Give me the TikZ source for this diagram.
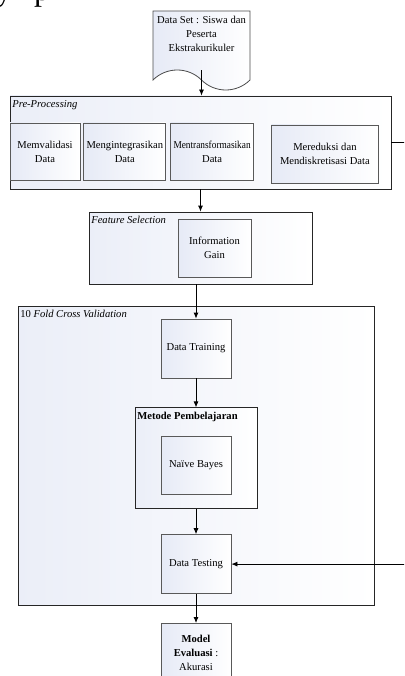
\documentclass[tikz,border=0pt]{standalone}
\usepackage{fontspec}
\setmainfont{Liberation Serif}
\usetikzlibrary{positioning,shapes.symbols,arrows.meta}
\definecolor{boxtint}{RGB}{230,234,246}

\tikzset{
  block/.style={draw=black!65, line width=0.8pt, left color=boxtint, right color=white,
    align=center, inner sep=1pt, font=\fontsize{10.6}{14}\selectfont},
  group/.style={draw=black!85, line width=0.8pt, left color=boxtint!80, right color=white, inner sep=0pt},
  grouplabel/.style={anchor=north west, inner xsep=2.5pt, inner ysep=4.5pt, font=\fontsize{10.6}{13}\selectfont},
  flow/.style={-{Latex[length=6pt,width=5pt]}, line width=0.8pt},
}

\begin{document}
\begin{tikzpicture}[x=1pt,y=-1pt]
\clip (0,0) rectangle (404,676);
% cut-off line of the page above
\node[anchor=base west, inner sep=0pt, font=\fontsize{32}{32}\selectfont] (pagetext) at (-4,1) {y\hspace{22pt}p};

% groups
\node[group, minimum width=381pt, minimum height=93pt] (preproc) at (200.5,142.5) {};
\node[grouplabel, font=\fontsize{10.6}{13}\selectfont\itshape] (preproclabel) at (preproc.north west) {Pre-Processing};
\node[group, minimum width=223pt, minimum height=72pt] (fs) at (200.5,248) {};
\node[grouplabel, font=\fontsize{10.6}{13}\selectfont\itshape] (fslabel) at (fs.north west) {Feature Selection};
\node[group, minimum width=356pt, minimum height=299pt] (cv) at (196,455.5) {};
\node[grouplabel] (cvlabel) at (cv.north west) {10 \textit{Fold Cross Validation}};

% data source
\node[tape, tape bend top=none, tape bend bottom=out and in, tape bend height=20pt,
  draw=black!70, line width=0.8pt, left color=boxtint, right color=white,
  minimum width=97pt, minimum height=79pt, inner sep=0pt] (dataset) at (201.5,40.5) {};
\node[align=center, font=\fontsize{10.6}{14}\selectfont] (datasettext) at ([yshift=6.5pt]dataset.center)
  {Data Set : Siswa dan\\Peserta\\Ekstrakurikuler};

% pre-processing steps
\node[block, minimum width=70pt, minimum height=57pt, anchor=west] (memval) at ([yshift=-9pt]preproc.west) {Memvalidasi\\Data};
\node[block, minimum width=82pt, minimum height=57pt, right=3pt of memval] (mengint) {Mengintegrasikan\\Data};
\node[block, minimum width=83pt, minimum height=57pt, right=4pt of mengint] (mentrans) {\scalebox{0.88}[1]{Mentransformasikan}\\Data};
\node[block, minimum width=107pt, minimum height=58pt, right=17pt of mentrans, yshift=-2.5pt] (mereduksi) {Mereduksi dan\\Mendiskretisasi Data};

% feature selection
\node[block, minimum width=73pt, minimum height=58pt] (infogain) at (214.5,248) {Information\\Gain};

% cross validation
\node[block, minimum width=70pt, minimum height=59pt] (dtrain) at (196,348.5) {Data Training};
\node[group, minimum width=122pt, minimum height=101pt, below=29pt of dtrain] (metode) {};
\node[grouplabel, font=\fontsize{10.6}{13}\selectfont\bfseries] (metodelabel) at (metode.north west) {Metode Pembelajaran};
\node[block, minimum width=70pt, minimum height=58pt] (naive) at (196,465) {Naïve Bayes};
\node[block, minimum width=70pt, minimum height=59pt, below=25pt of metode] (dtest) {Data Testing};
\node[block, minimum width=70pt, minimum height=59pt, below=29pt of dtest] (model) {\textbf{Model}\\\textbf{Evaluasi} :\\Akurasi};

% connectors
\draw[flow] (dataset.south) -- (preproc.north -| dataset.south);
\draw[flow] (preproc.south) -- (fs.north);
\draw[flow] (fs.south -| dtrain.north) -- (dtrain.north);
\draw[flow] (dtrain) -- (metode);
\draw[flow] (metode) -- (dtest);
\draw[flow] (dtest) -- (model);
\draw[flow] (preproc.east) -- ++(24,0) |- (dtest.east);
\end{tikzpicture}
\end{document}
